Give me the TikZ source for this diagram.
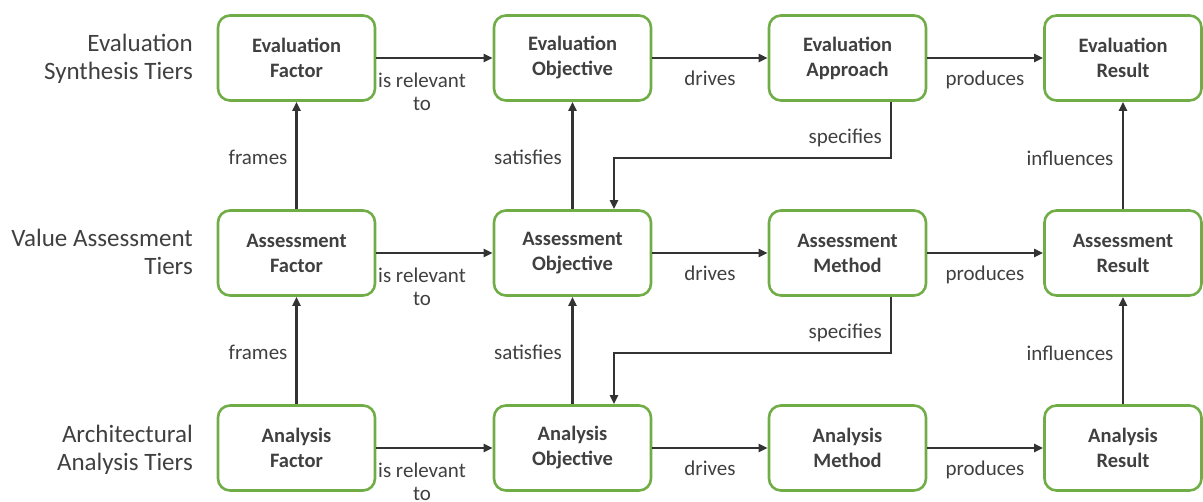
\documentclass[tikz,border=0pt]{standalone}
\usepackage{fontspec}
\setmainfont{Carlito}
\usetikzlibrary{arrows.meta}
\definecolor{boxgreen}{HTML}{70AD47}
\definecolor{txt}{HTML}{404040}
\definecolor{arrc}{HTML}{333333}
\begin{document}
\begin{tikzpicture}[x=1pt,y=-1pt,
  tierbox/.style={draw=boxgreen,line width=2.6pt,rounded corners=12pt,fill=white,
    minimum width=157pt,minimum height=85pt,align=center,text=txt,
    font=\fontsize{20.5}{25}\selectfont\bfseries},
  arr/.style={draw=arrc,line width=2.2pt,-{Triangle[length=9pt,width=8pt]}},
  lbl/.style={text=txt,font=\fontsize{21}{23}\selectfont,align=center,inner sep=0pt},
  tier/.style={text=txt,font=\fontsize{25}{28}\selectfont,align=right,anchor=east,inner sep=0pt}]
\useasboundingbox (0,0) rectangle (1203,502);
% tier labels
\node[tier] (t1) at (193,59) {Evaluation\\Synthesis Tiers};
\node[tier] (t2) at (193,252) {Value Assessment\\Tiers};
\node[tier] (t3) at (193,450) {Architectural\\Analysis Tiers};
% boxes
\node[tierbox] (ef) at (296.5,58) {Evaluation\\Factor};
\node[tierbox] (eo) at (572.5,58) {Evaluation\\Objective};
\node[tierbox] (ea) at (847.5,58) {Evaluation\\Approach};
\node[tierbox] (er) at (1123,58) {Evaluation\\Result};
\node[tierbox] (af) at (296.5,253) {Assessment\\Factor};
\node[tierbox] (ao) at (572.5,253) {Assessment\\Objective};
\node[tierbox] (am) at (847.5,253) {Assessment\\Method};
\node[tierbox] (ar) at (1123,253) {Assessment\\Result};
\node[tierbox] (nf) at (296.5,448) {Analysis\\Factor};
\node[tierbox] (no) at (572.5,448) {Analysis\\Objective};
\node[tierbox] (nm) at (847.5,448) {Analysis\\Method};
\node[tierbox] (nr) at (1123,448) {Analysis\\Result};
% horizontal arrows
\draw[arr] (ef) -- (eo);
\draw[arr] (eo) -- (ea);
\draw[arr] (ea) -- (er);
\draw[arr] (af) -- (ao);
\draw[arr] (ao) -- (am);
\draw[arr] (am) -- (ar);
\draw[arr] (nf) -- (no);
\draw[arr] (no) -- (nm);
\draw[arr] (nm) -- (nr);
% vertical arrows
\draw[arr] (af) -- (ef);
\draw[arr] (nf) -- (af);
\draw[arr] (ao) -- (eo);
\draw[arr] (no) -- (ao);
\draw[arr] (ar) -- (er);
\draw[arr] (nr) -- (ar);
% specifies
\draw[arr] ([xshift=43.5pt]ea.south) -- ++(0,-56pt) -| ([xshift=41.5pt]ao.north);
\draw[arr] ([xshift=43.5pt]am.south) -- ++(0,-56pt) -| ([xshift=41.5pt]no.north);
% labels
\foreach \dy/\s in {0/e,195/a,390/n}{
  \node[lbl] (rel\s) at (422,92+\dy) {is relevant\\to};
  \node[lbl] (drv\s) at (710,78+\dy) {drives};
  \node[lbl] (prd\s) at (985,80+\dy) {produces};
}
\foreach \dy/\s in {0/e,195/a}{
  \node[lbl] (frm\s) at (258,157+\dy) {frames};
  \node[lbl] (sat\s) at (528,157+\dy) {satisfies};
  \node[lbl] (inf\s) at (1070,158+\dy) {influences};
  \node[lbl,anchor=east] (spc\s) at (882,138+\dy) {specifies};
}
\end{tikzpicture}
\end{document}
